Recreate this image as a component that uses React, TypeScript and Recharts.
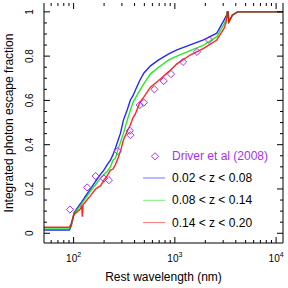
import { ComposedChart, Legend, Line, Scatter, XAxis, YAxis } from "recharts";

const FONT = '"Liberation Sans", Arial, Helvetica, sans-serif';
const PURPLE = "#a633ee";
const PLOT_TOP = 3;
const PLOT_RIGHT = 283;

// rest wavelength grid (nm) shared by the three model curves
const WAVE = [
  51, 91, 95, 101, 110, 117, 120, 122, 124, 130,
  147, 165, 185, 199, 215, 231, 245, 259, 275, 290,
  310, 338, 364, 385, 408, 450, 493, 574, 692, 870,
  1048, 1417, 1920, 2597, 3070, 3250, 3300, 3350, 3420, 3700,
  4160, 11700,
];
const LOW_Z = [
  0.015, 0.015, 0.035, 0.092, 0.117, 0.135, 0.14, 0.147, 0.15, 0.165,
  0.2, 0.235, 0.267, 0.285, 0.31, 0.33, 0.355, 0.385, 0.42, 0.451,
  0.51, 0.557, 0.602, 0.62, 0.647, 0.69, 0.723, 0.756, 0.783, 0.81,
  0.828, 0.851, 0.873, 0.904, 0.964, 0.985, 1, 1, 0.955, 0.985,
  1, 1,
];
const MID_Z = [
  0.02, 0.02, 0.04, 0.09, 0.11, 0.125, 0.13, 0.14, 0.142, 0.155,
  0.19, 0.22, 0.25, 0.265, 0.28, 0.3, 0.33, 0.34, 0.38, 0.41,
  0.45, 0.51, 0.557, 0.59, 0.61, 0.645, 0.675, 0.72, 0.75, 0.783,
  0.8, 0.825, 0.85, 0.888, 0.945, 0.975, 1, 1, 0.955, 0.985,
  1, 1,
];
const HIGH_Z = [
  0.027, 0.027, 0.045, 0.085, 0.1, 0.11, 0.125, 0.075, 0.13, 0.14,
  0.17, 0.2, 0.215, 0.24, 0.26, 0.285, 0.29, 0.31, 0.34, 0.37,
  0.42, 0.46, 0.49, 0.52, 0.54, 0.59, 0.615, 0.66, 0.69, 0.73,
  0.765, 0.805, 0.835, 0.873, 0.926, 0.96, 1, 1, 0.955, 0.985,
  1, 1,
];

// Driver et al (2008)
const DRIVER_WAVE = [92, 136, 165, 199, 223, 273, 359, 364, 450, 493, 628, 776, 916, 1206, 1655, 2173];
const DRIVER_FRAC = [0.107, 0.207, 0.258, 0.247, 0.24, 0.371, 0.463, 0.443, 0.579, 0.59, 0.65, 0.688, 0.719, 0.774, 0.819, 0.873];

const X_TICKS = [
  60, 70, 80, 90, 100, 200, 300, 400, 500, 600, 700, 800, 900,
  1000, 2000, 3000, 4000, 5000, 6000, 7000, 8000, 9000, 10000,
];
const X_EXP: Record<number, string> = { 100: "2", 1000: "3", 10000: "4" };
const Y_TICKS = [
  0, 0.05, 0.1, 0.15, 0.2, 0.25, 0.3, 0.35, 0.4, 0.45, 0.5,
  0.55, 0.6, 0.65, 0.7, 0.75, 0.8, 0.85, 0.9, 0.95, 1,
];
const Y_LABELS: Record<number, string> = { 0: "0", 20: "0.2", 40: "0.4", 60: "0.6", 80: "0.8", 100: "1" };

const X_DOMAIN = [51, 11700];
const Y_DOMAIN = [-0.044, 1.04];

const SERIES = [
  { key: "low", color: "#0000ff", label: "0.02 < z < 0.08" },
  { key: "mid", color: "#00e600", label: "0.08 < z < 0.14" },
  { key: "high", color: "#ff0000", label: "0.14 < z < 0.20" },
];

const rows = WAVE.map((w, i) => ({ w, low: LOW_Z[i], mid: MID_Z[i], high: HIGH_Z[i] }));
const driverRows = DRIVER_WAVE.map((w, i) => ({ w, frac: DRIVER_FRAC[i] }));

function XTick(props: any) {
  const { x, y, payload } = props;
  const exp = X_EXP[payload.value];
  const len = exp ? 6 : 3;
  return (
    <g>
      <line x1={x} x2={x} y1={y} y2={y - len} stroke="#000" />
      <line x1={x} x2={x} y1={PLOT_TOP} y2={PLOT_TOP + len} stroke="#000" />
      {exp && (
        <text x={x} y={262} textAnchor="middle" fontSize={10} fill="#000" fontFamily={FONT}>
          10
          <tspan fontSize={7} dy={-5}>
            {exp}
          </tspan>
        </text>
      )}
    </g>
  );
}

function YTick(props: any) {
  const { x, y, payload } = props;
  const label = Y_LABELS[Math.round(payload.value * 100)];
  const len = label ? 6 : 3;
  return (
    <g>
      <line x1={x} x2={x + len} y1={y} y2={y} stroke="#000" />
      <line x1={PLOT_RIGHT} x2={PLOT_RIGHT - len} y1={y} y2={y} stroke="#000" />
      {label && (
        <text
          x={33.5}
          y={y}
          transform={`rotate(-90 33.5 ${y})`}
          textAnchor="middle"
          fontSize={10}
          fill="#000"
          fontFamily={FONT}
        >
          {label}
        </text>
      )}
    </g>
  );
}

function Diamond(props: any) {
  const { cx, cy } = props;
  const r = 3.6;
  return (
    <polygon
      points={`${cx},${cy - r} ${cx + r},${cy} ${cx},${cy + r} ${cx - r},${cy}`}
      fill="none"
      stroke={PURPLE}
      strokeWidth={1}
    />
  );
}

function LegendBox() {
  return (
    <svg width={146} height={92} style={{ display: "block", fontFamily: FONT }}>
      <polygon points="15,6.7 18.6,10.3 15,13.9 11.4,10.3" fill="none" stroke={PURPLE} />
      <text x={32} y={10.3} fontSize={12} fill={PURPLE} dominantBaseline="central">
        Driver et al (2008)
      </text>
      {SERIES.map((s, i) => (
        <g key={s.key}>
          <line x1={3} x2={25} y1={32 + i * 22.3} y2={32 + i * 22.3} stroke={s.color} strokeOpacity={0.55} />
          <text x={32} y={32 + i * 22.3} fontSize={12} fill="#000" dominantBaseline="central">
            {s.label}
          </text>
        </g>
      ))}
    </svg>
  );
}

export default function App() {
  return (
    <div style={{ position: "absolute", left: 0, top: 0, width: 288, height: 288, background: "#fff", fontFamily: FONT }}>
      <ComposedChart width={288} height={288} data={rows} margin={{ top: 3, right: 0, bottom: 0, left: 0 }}>
        <XAxis
          xAxisId="x"
          dataKey="w"
          type="number"
          scale="log"
          domain={X_DOMAIN}
          allowDataOverflow
          ticks={X_TICKS}
          interval={0}
          tickSize={0}
          tickMargin={0}
          height={45}
          axisLine={{ stroke: "#000" }}
          tick={<XTick />}
          label={(p: any) => (
            <text
              x={p.viewBox.x + p.viewBox.width / 2}
              y={281}
              textAnchor="middle"
              fontSize={12}
              fill="#000"
              fontFamily={FONT}
            >
              Rest wavelength (nm)
            </text>
          )}
        />
        <XAxis
          xAxisId="top"
          orientation="top"
          dataKey="w"
          type="number"
          scale="log"
          domain={X_DOMAIN}
          allowDataOverflow
          height={0}
          tick={false}
          tickLine={false}
          axisLine={{ stroke: "#000" }}
        />
        <YAxis
          yAxisId="y"
          type="number"
          domain={Y_DOMAIN}
          allowDataOverflow
          ticks={Y_TICKS}
          interval={0}
          tickSize={0}
          tickMargin={0}
          width={44}
          axisLine={{ stroke: "#000" }}
          tick={<YTick />}
          label={(p: any) => {
            const cy = p.viewBox.y + p.viewBox.height / 2;
            return (
              <text
                x={13}
                y={cy}
                transform={`rotate(-90 13 ${cy})`}
                textAnchor="middle"
                fontSize={12}
                fill="#000"
                fontFamily={FONT}
              >
                Integrated photon escape fraction
              </text>
            );
          }}
        />
        <YAxis
          yAxisId="right"
          orientation="right"
          type="number"
          domain={Y_DOMAIN}
          allowDataOverflow
          width={5}
          tick={false}
          tickLine={false}
          axisLine={{ stroke: "#000" }}
        />
        {SERIES.map((s) => (
          <Line
            key={s.key}
            xAxisId="x"
            yAxisId="y"
            type="linear"
            dataKey={s.key}
            stroke={s.color}
            strokeOpacity={0.85}
            strokeWidth={1.4}
            dot={false}
            activeDot={false}
            isAnimationActive={false}
          />
        ))}
        <Scatter
          xAxisId="x"
          yAxisId="y"
          data={driverRows}
          dataKey="frac"
          shape={<Diamond />}
          isAnimationActive={false}
        />
        <Legend
          layout="horizontal"
          verticalAlign="middle"
          align="center"
          wrapperStyle={{ left: 140, top: 146, width: 146, height: 92 }}
          content={<LegendBox />}
        />
      </ComposedChart>
    </div>
  );
}
